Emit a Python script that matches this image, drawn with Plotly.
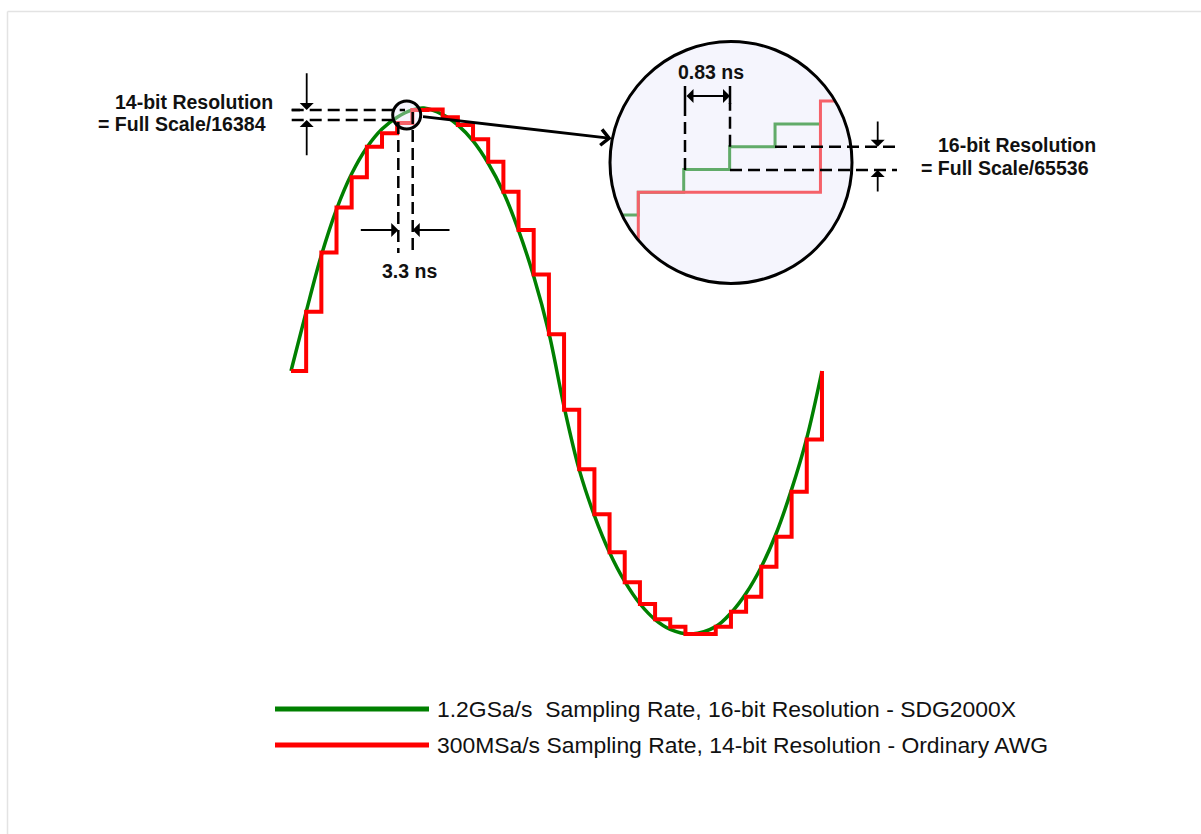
import plotly.graph_objects as go

# ---------------- data ----------------
# main waveform: sample instants (ns) of the 300 MSa/s AWG (3.3 ns apart)
sample_time_ns = [0.0, 3.33, 6.67, 10.0, 13.33, 16.67, 20.0, 23.33, 26.67, 30.0,
                  33.33, 36.67, 40.0, 43.33, 46.67, 50.0, 53.33, 56.67, 60.0, 63.33,
                  66.67, 70.0, 73.33, 76.67, 80.0, 83.33, 86.67, 90.0, 93.33, 96.67,
                  100.0, 103.33, 106.67, 110.0, 113.33, 116.67]
# held output level of the ordinary AWG (normalised to full amplitude)
awg_level = [0.0, 0.225, 0.451, 0.622, 0.737, 0.853, 0.904, 0.943, 0.992, 0.994,
             0.965, 0.935, 0.881, 0.796, 0.682, 0.536, 0.367, 0.140, -0.147, -0.374,
             -0.545, -0.689, -0.803, -0.886, -0.944, -0.972, -1.0, -1.0, -0.972, -0.915,
             -0.858, -0.744, -0.630, -0.459, -0.260, 0.0]
# smooth SDG2000X output
sdg_time_ns = [0.0, 3.33, 6.67, 10.0, 13.33, 16.67, 20.0, 23.33, 26.67, 29.2,
               33.33, 36.67, 40.0, 43.33, 46.67, 50.0, 53.33, 56.67, 60.0, 63.33,
               66.67, 70.0, 73.33, 76.67, 80.0, 83.33, 88.0, 93.33, 96.67,
               100.0, 103.33, 106.67, 110.0, 113.33, 116.67]
sdg_level = [0.0, 0.225, 0.44, 0.615, 0.75, 0.85, 0.92, 0.965, 0.993, 1.0,
             0.975, 0.935, 0.875, 0.79, 0.68, 0.535, 0.36, 0.145, -0.135, -0.375,
             -0.55, -0.69, -0.80, -0.885, -0.945, -0.982, -1.0, -0.972, -0.92,
             -0.845, -0.745, -0.615, -0.45, -0.255, 0.0]

# magnified inset: time (ns) and level in 16-bit LSB
inset_sdg_time = [-0.30, 0.0, 0.83, 1.67, 2.50, 3.33]
inset_sdg_lsb = [-1, 0, 1, 2, 3, 3]
inset_awg_time = [0.0, 0.0, 3.33, 3.60]
inset_awg_lsb = [-2.09, 0, 4, 4]

legend_labels = ["1.2GSa/s\u00a0 Sampling Rate, 16-bit Resolution - SDG2000X",
                 "300MSa/s Sampling Rate, 14-bit Resolution - Ordinary AWG"]

# ---------------- layout helpers ----------------
W, H = 1201, 834
GREEN = "#008000"
RED = "#ff0000"
INK = "#111111"


def X(p):
    return p / W


def Y(p):
    return 1 - p / H


fig = go.Figure()

fig.add_trace(go.Scatter(x=sdg_time_ns, y=sdg_level, mode="lines",
                         line=dict(color=GREEN, width=3.5, shape="spline", smoothing=1.0),
                         showlegend=False, hoverinfo="skip"))
fig.add_trace(go.Scatter(x=sample_time_ns, y=awg_level, mode="lines",
                         line=dict(color=RED, width=4, shape="hv"),
                         showlegend=False, hoverinfo="skip"))
fig.add_trace(go.Scatter(x=inset_sdg_time, y=inset_sdg_lsb, mode="lines",
                         line=dict(color=GREEN, width=3, shape="hv"),
                         xaxis="x2", yaxis="y2", showlegend=False, hoverinfo="skip"))
fig.add_trace(go.Scatter(x=inset_awg_time, y=inset_awg_lsb, mode="lines",
                         line=dict(color=RED, width=3, shape="hv"),
                         xaxis="x2", yaxis="y2", showlegend=False, hoverinfo="skip"))

shapes = []


def line(x0, y0, x1, y1, color="black", width=2.5, dash=None, layer="above"):
    d = dict(type="line", xref="paper", yref="paper",
             x0=X(x0), y0=Y(y0), x1=X(x1), y1=Y(y1),
             line=dict(color=color, width=width), layer=layer)
    if dash:
        d["line"]["dash"] = dash
    shapes.append(d)


def circle(cx, cy, r, width=3):
    shapes.append(dict(type="circle", xref="paper", yref="paper",
                       x0=X(cx - r), x1=X(cx + r), y0=Y(cy + r), y1=Y(cy - r),
                       line=dict(color="black", width=width),
                       fillcolor="rgba(230,230,250,0.42)", layer="above"))


# outer frame
line(7.5, 11.5, 1210, 11.5, color="#e3e3e3", width=1.5, layer="below")
line(7.5, 11.5, 7.5, 850, color="#e3e3e3", width=1.5, layer="below")

circle(406.7, 115, 14)
circle(731, 162.5, 121)

DASH = "12px,6px"
# 14-bit resolution markers
line(291.7, 110, 405, 110, dash=DASH)
line(291.7, 120, 398, 120, dash=DASH)
line(398.3, 122, 398.3, 253, dash=DASH)
line(412.7, 112, 412.7, 253, dash=DASH)
# 0.83 ns markers in inset
line(685, 170, 685, 103, dash=DASH)
line(730, 146.7, 730, 103, dash=DASH)
line(685, 86, 685, 104, width=2.5)
line(730, 86, 730, 104, width=2.5)
# 16-bit resolution markers
line(775, 146.7, 897, 146.7, dash=DASH)
line(730, 170, 897, 170, dash=DASH)
line(291.7, 110, 300, 110)

annotations = []


def arrow(hx, hy, tx, ty, head=1, width=1.8, size=1.3, side="end"):
    annotations.append(dict(xref="paper", yref="paper", x=X(hx), y=Y(hy),
                            ax=tx - hx, ay=ty - hy, text="", showarrow=True,
                            arrowhead=head, startarrowhead=head, arrowwidth=width,
                            arrowsize=size, startarrowsize=size, arrowside=side,
                            arrowcolor="black", standoff=0, startstandoff=0))


arrow(306.7, 110, 306.7, 71.7)
arrow(306.7, 120, 306.7, 156.7)
arrow(398.3, 230, 359.3, 230)
arrow(412.7, 230, 451, 230)
arrow(730, 96, 685, 96, side="end+start")
arrow(877.7, 146.7, 877.7, 120)
arrow(877.7, 170, 877.7, 193)
arrow(611.5, 138.5, 421.5, 116.5, head=4, width=2.8, size=1.1)


def text(cx, cy, s, size=19.5, bold=True, anchor="center"):
    annotations.append(dict(xref="paper", yref="paper", x=X(cx), y=Y(cy),
                            text=f"<b>{s}</b>" if bold else s, showarrow=False,
                            xanchor=anchor, yanchor="middle",
                            font=dict(family="Liberation Sans, Arial, sans-serif",
                                      size=size, color=INK)))


text(194, 102, "14-bit Resolution")
text(182, 124.5, "= Full Scale/16384")
text(409.3, 271, "3.3 ns")
text(711, 72, "0.83 ns")
text(1017, 145, "16-bit Resolution")
text(1005, 168, "= Full Scale/65536")

# legend (drawn manually to reproduce the long sample lines)
line(275, 709, 429, 709, color=GREEN, width=5)
line(275, 745, 429, 745, color=RED, width=5)
text(435, 709, legend_labels[0], size=22.9, bold=False, anchor="left")
text(435, 745, legend_labels[1], size=22.9, bold=False, anchor="left")

# axis ranges chosen so the drawing lands at the reference pixel positions
x0_px, px_per_ns = 291.0, 4.551
y0_px, px_per_unit = 371.0, 263.0
ix0_px, ipx_per_ns = 638.3, 54.7
iy0_px, ipx_per_lsb = 192.3, 22.8

fig.update_layout(
    width=W, height=H, autosize=False,
    margin=dict(l=0, r=0, t=0, b=0, pad=0),
    paper_bgcolor="white", plot_bgcolor="white",
    showlegend=False,
    xaxis=dict(range=[-x0_px / px_per_ns, (W - x0_px) / px_per_ns], visible=False,
               domain=[0, 1], fixedrange=True),
    yaxis=dict(range=[(y0_px - H) / px_per_unit, y0_px / px_per_unit], visible=False,
               domain=[0, 1], fixedrange=True),
    xaxis2=dict(range=[-ix0_px / ipx_per_ns, (W - ix0_px) / ipx_per_ns], visible=False,
                overlaying="x", anchor="y2", fixedrange=True),
    yaxis2=dict(range=[(iy0_px - H) / ipx_per_lsb, iy0_px / ipx_per_lsb], visible=False,
                overlaying="y", anchor="x2", fixedrange=True),
    shapes=shapes,
    annotations=annotations,
)

fig.write_html("out.html", config={"displayModeBar": False},
               post_script="document.body.style.margin='0';document.body.style.overflow='hidden';")
